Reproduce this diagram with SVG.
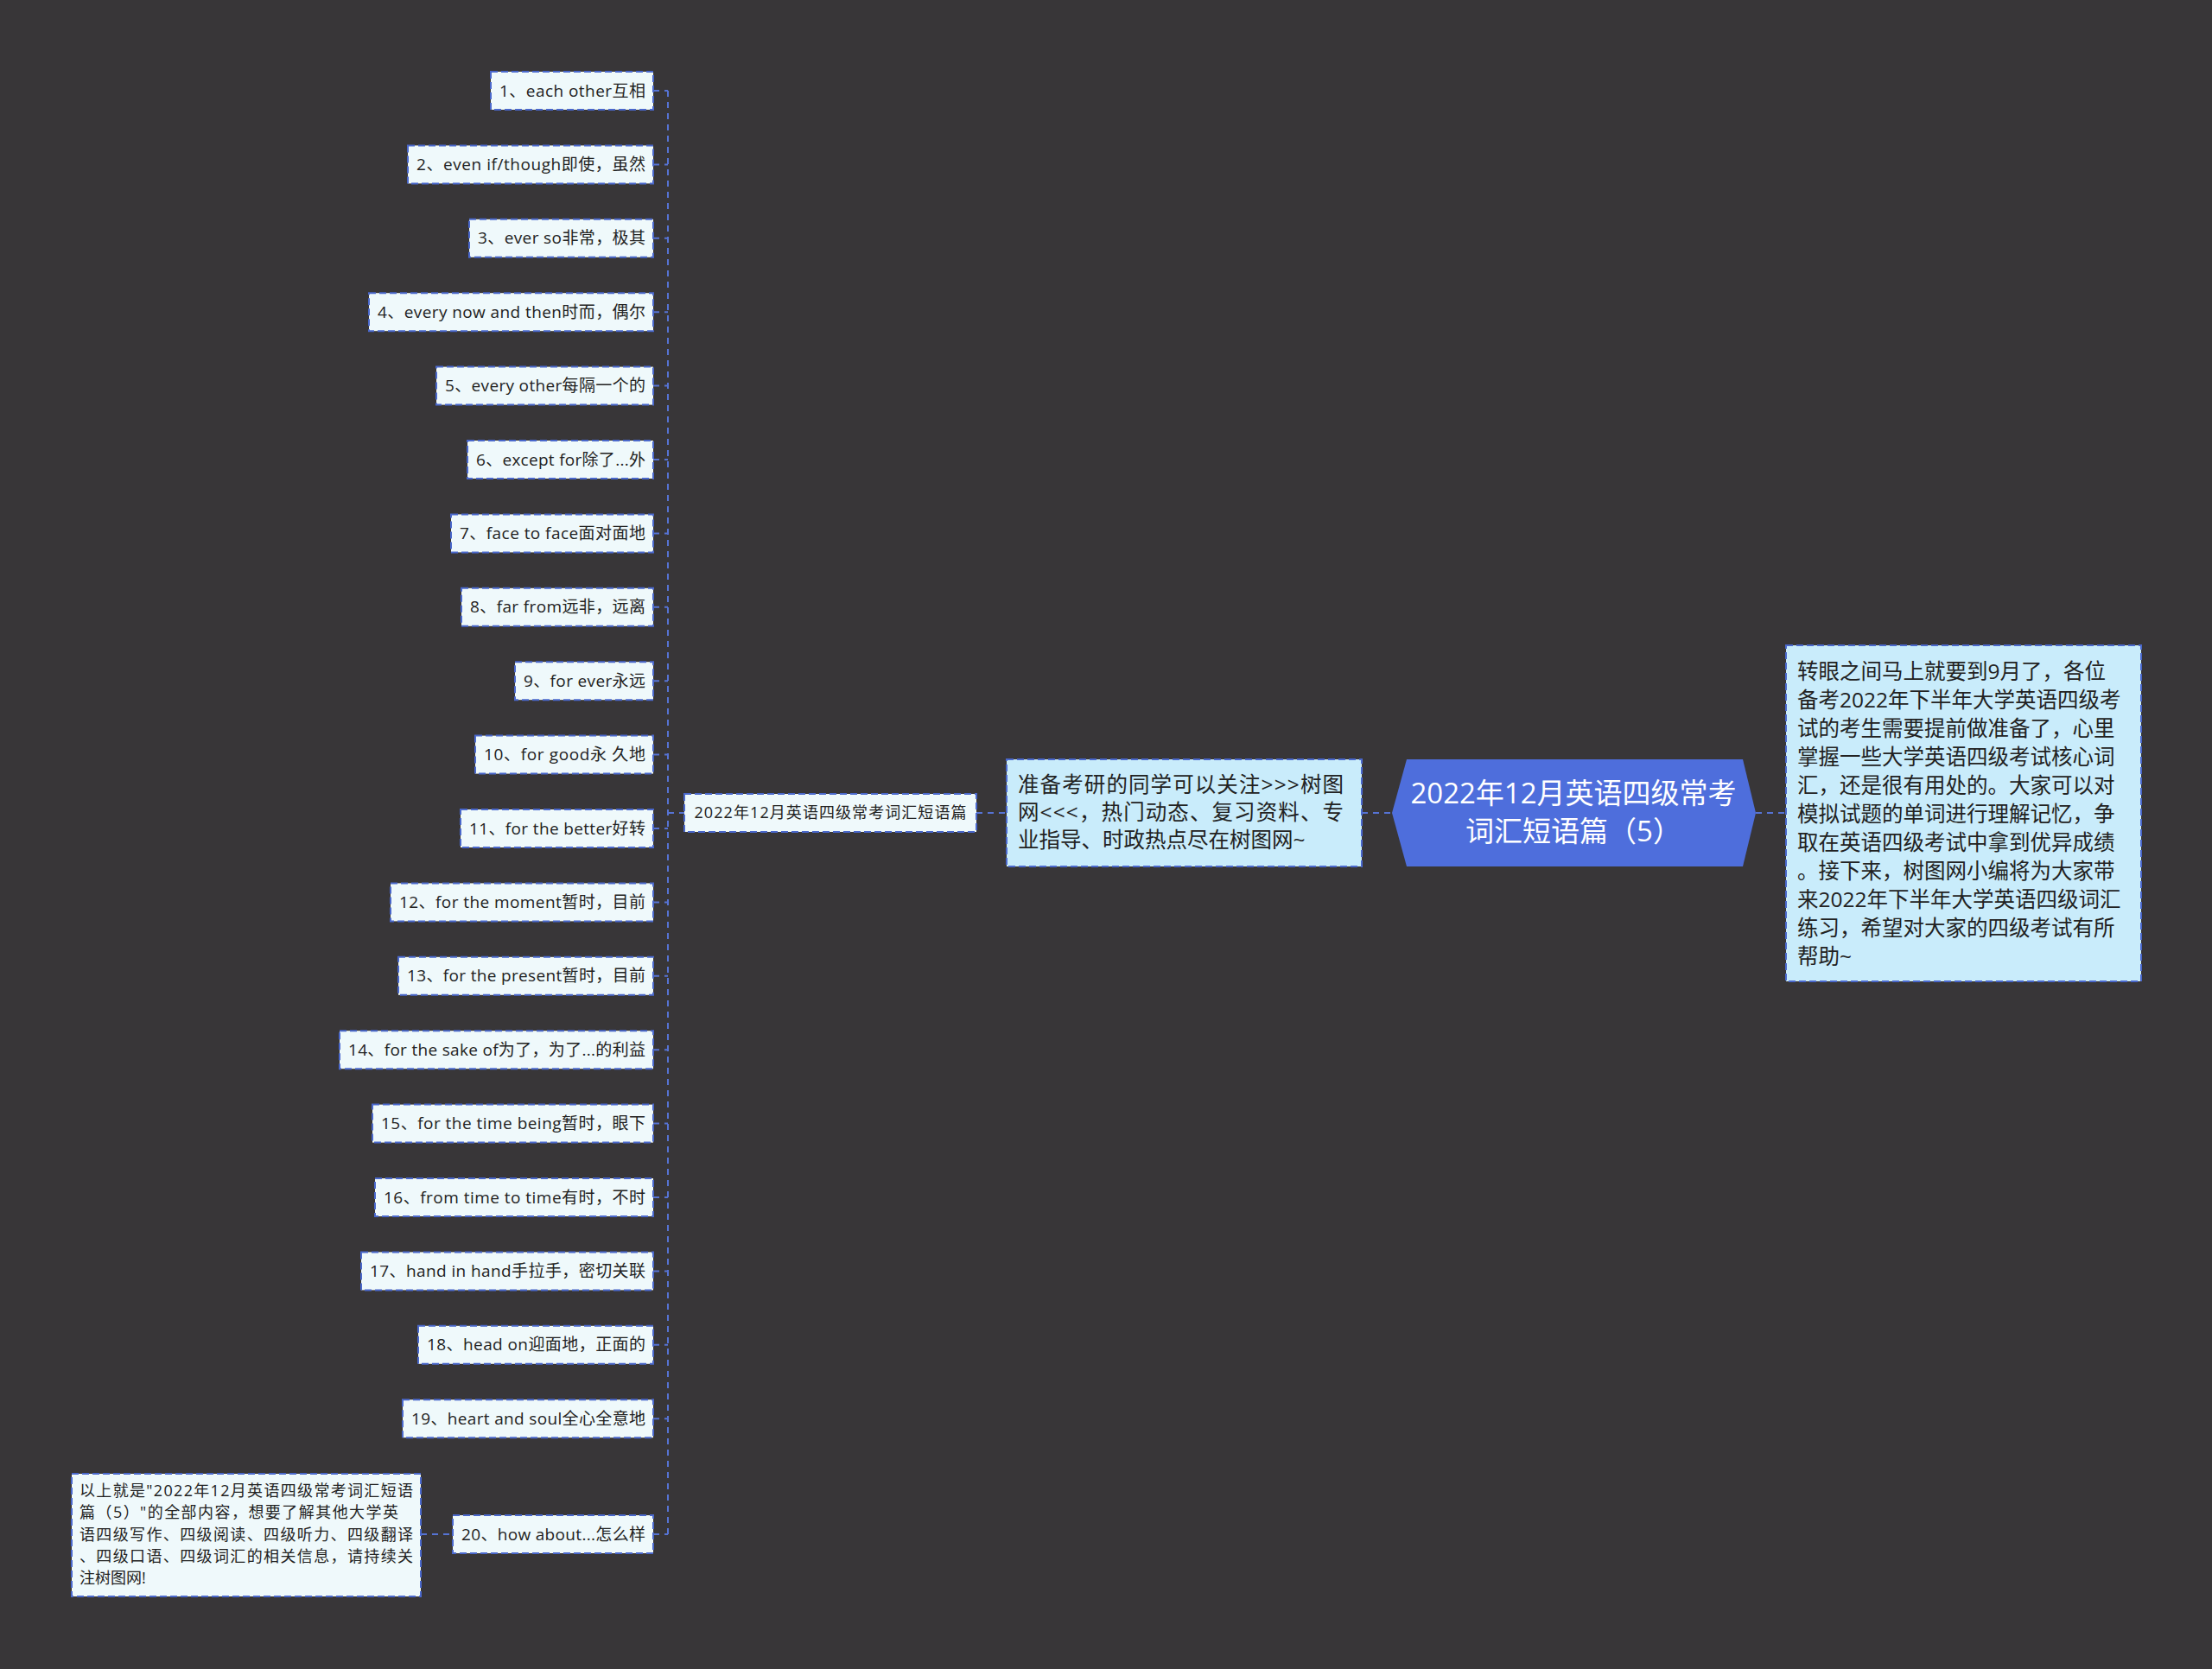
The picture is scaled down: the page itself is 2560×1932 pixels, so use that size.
<svg xmlns="http://www.w3.org/2000/svg" width="2560" height="1932" viewBox="0 0 2560 1932">
<style>
.bg{fill:#383638}
.leaf{fill:#eff9fb;stroke:#4a68cc;stroke-width:2;stroke-dasharray:8 4}
.info{fill:#c9ecfb;stroke:#4a68cc;stroke-width:2;stroke-dasharray:8 4}
.root{fill:#4e6edc}
.t{font-family:"Open Sans","Noto Sans CJK SC",sans-serif;fill:#222}
.s18{font-size:18px}
.s19{font-size:19px}
.s24{font-size:24.5px}
.rt{font-family:"Open Sans","Noto Sans CJK SC",sans-serif;font-size:33px;fill:#ffffff}
.c{fill:none;stroke:#5673d4;stroke-width:2;stroke-dasharray:7 6}
</style>
<rect class="bg" x="0" y="0" width="2560" height="1932"/>
<g id="connectors">
<path class="c" d="M773 105 V1776"/>
<path class="c" d="M756 105 H773 M756 190.4 H773 M756 275.8 H773 M756 361.2 H773 M756 446.6 H773 M756 532 H773 M756 617.4 H773 M756 702.8 H773 M756 788.2 H773 M756 873.6 H773 M756 959 H773 M756 1044.4 H773 M756 1129.8 H773 M756 1215.2 H773 M756 1300.6 H773 M756 1386 H773 M756 1471.4 H773 M756 1556.8 H773 M756 1642.2 H773 M756 1776 H773"/>
<path class="c" d="M773 941 H792"/>
<path class="c" d="M1130 941 H1165"/>
<path class="c" d="M1576 941 H1611"/>
<path class="c" d="M2032 941 H2067"/>
<path class="c" d="M487 1776 H524"/>
</g>
<g id="root">
<polygon class="root" points="1611,941 1628,879 2017,879 2032,941 2017,1003 1628,1003"/>
<text class="rt" x="1821" y="930" text-anchor="middle">2022年12月英语四级常考</text>
<text class="rt" x="1821" y="974" text-anchor="middle">词汇短语篇（5）</text>
</g>
<g id="intro">
<rect class="info" x="2067" y="747" width="411" height="389"/>
<text class="t s24" x="2080" y="786">转眼之间马上就要到9月了，各位</text>
<text class="t s24" x="2080" y="819">备考2022年下半年大学英语四级考</text>
<text class="t s24" x="2080" y="852">试的考生需要提前做准备了，心里</text>
<text class="t s24" x="2080" y="885">掌握一些大学英语四级考试核心词</text>
<text class="t s24" x="2080" y="918">汇，还是很有用处的。大家可以对</text>
<text class="t s24" x="2080" y="951">模拟试题的单词进行理解记忆，争</text>
<text class="t s24" x="2080" y="984">取在英语四级考试中拿到优异成绩</text>
<text class="t s24" x="2080" y="1017">。接下来，树图网小编将为大家带</text>
<text class="t s24" x="2080" y="1050">来2022年下半年大学英语四级词汇</text>
<text class="t s24" x="2080" y="1083">练习，希望对大家的四级考试有所</text>
<text class="t s24" x="2080" y="1116">帮助~</text>
</g>
<g id="follow">
<rect class="info" x="1165" y="879" width="411" height="124"/>
<text class="t s24" x="1178" y="917" textLength="377" lengthAdjust="spacing">准备考研的同学可以关注&gt;&gt;&gt;树图</text>
<text class="t s24" x="1178" y="949" textLength="377" lengthAdjust="spacing">网&lt;&lt;&lt;，热门动态、复习资料、专</text>
<text class="t s24" x="1178" y="981">业指导、时政热点尽在树图网~</text>
</g>
<g id="topic">
<rect class="leaf" x="792" y="919" width="338" height="44"/>
<text class="t s18" x="961" y="947" text-anchor="middle" textLength="315" lengthAdjust="spacing">2022年12月英语四级常考词汇短语篇</text>
</g>
<g id="n1"><rect class="leaf" x="568" y="83" width="188" height="44"/><text class="t s19" x="747" y="111.5" text-anchor="end" textLength="169" lengthAdjust="spacing">1、each other互相</text></g>
<g id="n2"><rect class="leaf" x="472" y="168.4" width="284" height="44"/><text class="t s19" x="747" y="196.9" text-anchor="end" textLength="265" lengthAdjust="spacing">2、even if/though即使，虽然</text></g>
<g id="n3"><rect class="leaf" x="543" y="253.8" width="213" height="44"/><text class="t s19" x="747" y="282.3" text-anchor="end" textLength="194" lengthAdjust="spacing">3、ever so非常，极其</text></g>
<g id="n4"><rect class="leaf" x="427" y="339.2" width="329" height="44"/><text class="t s19" x="747" y="367.7" text-anchor="end" textLength="310" lengthAdjust="spacing">4、every now and then时而，偶尔</text></g>
<g id="n5"><rect class="leaf" x="505" y="424.6" width="251" height="44"/><text class="t s19" x="747" y="453.1" text-anchor="end" textLength="232" lengthAdjust="spacing">5、every other每隔一个的</text></g>
<g id="n6"><rect class="leaf" x="541" y="510" width="215" height="44"/><text class="t s19" x="747" y="538.5" text-anchor="end" textLength="196" lengthAdjust="spacing">6、except for除了...外</text></g>
<g id="n7"><rect class="leaf" x="522" y="595.4" width="234" height="44"/><text class="t s19" x="747" y="623.9" text-anchor="end" textLength="215" lengthAdjust="spacing">7、face to face面对面地</text></g>
<g id="n8"><rect class="leaf" x="534" y="680.8" width="222" height="44"/><text class="t s19" x="747" y="709.3" text-anchor="end" textLength="203" lengthAdjust="spacing">8、far from远非，远离</text></g>
<g id="n9"><rect class="leaf" x="596" y="766.2" width="160" height="44"/><text class="t s19" x="747" y="794.7" text-anchor="end" textLength="141" lengthAdjust="spacing">9、for ever永远</text></g>
<g id="n10"><rect class="leaf" x="550" y="851.6" width="206" height="44"/><text class="t s19" x="747" y="880.1" text-anchor="end" textLength="187" lengthAdjust="spacing">10、for good永 久地</text></g>
<g id="n11"><rect class="leaf" x="533" y="937" width="223" height="44"/><text class="t s19" x="747" y="965.5" text-anchor="end" textLength="204" lengthAdjust="spacing">11、for the better好转</text></g>
<g id="n12"><rect class="leaf" x="452" y="1022.4" width="304" height="44"/><text class="t s19" x="747" y="1050.9" text-anchor="end" textLength="285" lengthAdjust="spacing">12、for the moment暂时，目前</text></g>
<g id="n13"><rect class="leaf" x="461" y="1107.8" width="295" height="44"/><text class="t s19" x="747" y="1136.3" text-anchor="end" textLength="276" lengthAdjust="spacing">13、for the present暂时，目前</text></g>
<g id="n14"><rect class="leaf" x="393" y="1193.2" width="363" height="44"/><text class="t s19" x="747" y="1221.7" text-anchor="end" textLength="344" lengthAdjust="spacing">14、for the sake of为了，为了...的利益</text></g>
<g id="n15"><rect class="leaf" x="431" y="1278.6" width="325" height="44"/><text class="t s19" x="747" y="1307.1" text-anchor="end" textLength="306" lengthAdjust="spacing">15、for the time being暂时，眼下</text></g>
<g id="n16"><rect class="leaf" x="434" y="1364" width="322" height="44"/><text class="t s19" x="747" y="1392.5" text-anchor="end" textLength="303" lengthAdjust="spacing">16、from time to time有时，不时</text></g>
<g id="n17"><rect class="leaf" x="418" y="1449.4" width="338" height="44"/><text class="t s19" x="747" y="1477.9" text-anchor="end" textLength="319" lengthAdjust="spacing">17、hand in hand手拉手，密切关联</text></g>
<g id="n18"><rect class="leaf" x="484" y="1534.8" width="272" height="44"/><text class="t s19" x="747" y="1563.3" text-anchor="end" textLength="253" lengthAdjust="spacing">18、head on迎面地，正面的</text></g>
<g id="n19"><rect class="leaf" x="466" y="1620.2" width="290" height="44"/><text class="t s19" x="747" y="1648.7" text-anchor="end" textLength="271" lengthAdjust="spacing">19、heart and soul全心全意地</text></g>
<g id="n20"><rect class="leaf" x="524" y="1754" width="232" height="44"/><text class="t s19" x="747" y="1782.5" text-anchor="end" textLength="213" lengthAdjust="spacing">20、how about...怎么样</text></g>
<g id="summary">
<rect class="leaf" x="83" y="1706" width="404" height="142"/>
<text class="t s18" x="92" y="1732" textLength="386" lengthAdjust="spacing">以上就是"2022年12月英语四级常考词汇短语</text>
<text class="t s18" x="92" y="1757" textLength="369" lengthAdjust="spacing">篇（5）"的全部内容，想要了解其他大学英</text>
<text class="t s18" x="92" y="1783" textLength="386" lengthAdjust="spacing">语四级写作、四级阅读、四级听力、四级翻译</text>
<text class="t s18" x="92" y="1808" textLength="386" lengthAdjust="spacing">、四级口语、四级词汇的相关信息，请持续关</text>
<text class="t s18" x="92" y="1833">注树图网!</text>
</g>
</svg>
